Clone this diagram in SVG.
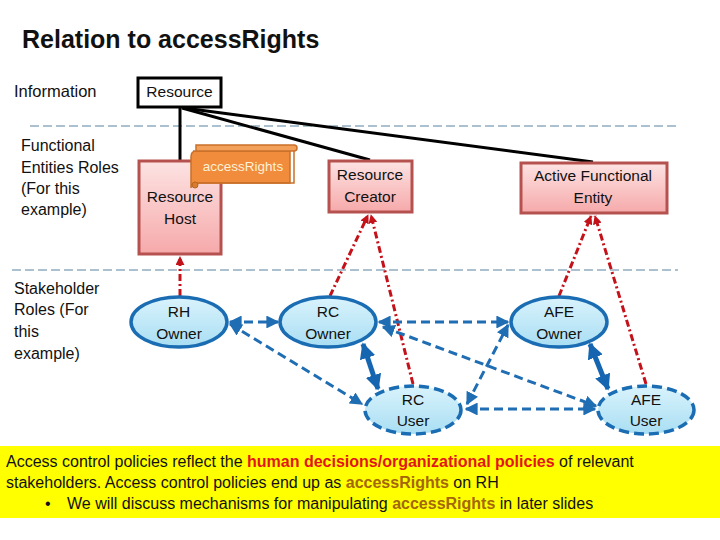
<svg xmlns="http://www.w3.org/2000/svg" width="720" height="540" viewBox="0 0 720 540">
<style>
text{font-family:"Liberation Sans",Arial,sans-serif;fill:#111}
.lbl{font-size:16px}
.node{font-size:15.5px;text-anchor:middle}
.fe{stroke:#b5524f;stroke-width:3;fill:url(#pink)}
.sh{stroke:#1b6db3;stroke-width:3.5;fill:url(#cyan)}
.shd{stroke:#1b6db3;stroke-width:3.5;fill:url(#cyan);stroke-dasharray:10,5}
.sep{stroke:#5b84a0;stroke-width:1.2;stroke-dasharray:9,4;fill:none}
.blk{stroke:#000;stroke-width:3;fill:none}
.red{stroke:#c4121a;stroke-width:3;stroke-dasharray:7,3,2,3;fill:none;marker-end:url(#ra)}
.bd{stroke:#1f6db3;stroke-width:3;stroke-dasharray:9,5;fill:none;marker-start:url(#ba);marker-end:url(#ba)}
.bt{stroke:#1565b0;stroke-width:5;fill:none;marker-start:url(#bta);marker-end:url(#bta)}
.band{font-size:16px}
.hr{fill:#e3141c;font-weight:bold}
.ar{fill:#a3660a;font-weight:bold}
</style>
<defs>
<linearGradient id="pink" x1="0" y1="0" x2="0" y2="1">
<stop offset="0" stop-color="#fde3e3"/><stop offset="1" stop-color="#f6a9aa"/>
</linearGradient>
<linearGradient id="cyan" x1="0" y1="0" x2="0" y2="1">
<stop offset="0" stop-color="#d9f3fc"/><stop offset="1" stop-color="#a9def3"/>
</linearGradient>
<marker id="ba" viewBox="0 0 10 10" refX="9" refY="5" markerWidth="4.3" markerHeight="4.3" orient="auto-start-reverse">
<path d="M0,0 L10,5 L0,10 z" fill="#1f6db3"/>
</marker>
<marker id="bta" viewBox="0 0 10 10" refX="9" refY="5" markerWidth="3.2" markerHeight="3.2" orient="auto-start-reverse">
<path d="M0,0 L10,5 L0,10 z" fill="#1565b0"/>
</marker>
<marker id="ra" viewBox="0 0 10 10" refX="9" refY="5" markerWidth="3" markerHeight="3" orient="auto">
<path d="M0,0 L10,5 L0,10 z" fill="#c4121a"/>
</marker>
</defs>
<rect width="720" height="540" fill="#fff"/>
<text x="22" y="48" style="font-size:25px;font-weight:bold">Relation to accessRights</text>
<g id="row-labels">
<text class="lbl" x="14" y="97" style="font-size:16.5px">Information</text>
<text class="lbl" x="21" y="151">Functional</text>
<text class="lbl" x="21" y="173">Entities Roles</text>
<text class="lbl" x="21" y="194">(For this</text>
<text class="lbl" x="21" y="215">example)</text>
<text class="lbl" x="14" y="294">Stakeholder</text>
<text class="lbl" x="14" y="315">Roles (For</text>
<text class="lbl" x="14" y="337">this</text>
<text class="lbl" x="14" y="359">example)</text>
</g>
<g id="separators">
<line class="sep" x1="30" y1="126" x2="678" y2="126"/>
<line class="sep" x1="12" y1="270" x2="678" y2="270"/>
</g>
<g id="connectors">
<line class="blk" x1="180" y1="107" x2="180" y2="160"/>
<line class="blk" x1="182" y1="108" x2="370" y2="160"/>
<line class="blk" x1="184" y1="108" x2="593" y2="162"/>
<line class="red" x1="180" y1="296" x2="180" y2="257"/>
<line class="red" x1="330" y1="296" x2="368" y2="215"/>
<line class="red" x1="413" y1="384" x2="371" y2="215"/>
<line class="red" x1="559" y1="296" x2="591" y2="216"/>
<line class="red" x1="646" y1="384" x2="595" y2="216"/>
<line class="bd" x1="230" y1="322" x2="278" y2="322"/>
<line class="bd" x1="230" y1="324" x2="362" y2="404"/>
<line class="bd" x1="379" y1="322" x2="508" y2="322"/>
<line class="bd" x1="383" y1="327" x2="596" y2="406"/>
<line class="bd" x1="466" y1="409" x2="595" y2="409"/>
<line class="bd" x1="467" y1="404" x2="508" y2="325"/>
<line class="bt" x1="363" y1="344" x2="378" y2="389"/>
<line class="bt" x1="590" y1="344" x2="608" y2="389"/>
</g>
<g id="resource">
<rect x="138" y="78" width="83" height="29" fill="#fff" stroke="#000" stroke-width="3"/>
<text class="node" x="179.5" y="97">Resource</text>
</g>
<g id="resource-host">
<rect class="fe" x="139" y="161" width="82" height="93"/>
<text class="node" x="180" y="202">Resource</text>
<text class="node" x="180" y="224">Host</text>
</g>
<g id="access-rights">
<path d="M193,151 L290,151 L290,183 L197,183 Q191,183 191,188 L191,157 Q191,151 196,151 Z" fill="#f08c3c" stroke="#c9702a" stroke-width="1.5"/>
<path d="M196,145 L294,145 Q297,145 297,148 Q297,151 294,151 L196,151 Z" fill="#f3a15a" stroke="#c9702a" stroke-width="1.5"/>
<path d="M294,151 L294,183 L197,183" fill="none" stroke="#c9702a" stroke-width="1.5"/>
<circle cx="195" cy="185" r="3" fill="#d97a2e" stroke="#b8651f" stroke-width="1"/>
<text x="243" y="171" style="font-size:13.5px;text-anchor:middle;fill:#fdf1d6">accessRights</text>
</g>
<g id="resource-creator">
<rect class="fe" x="329" y="161" width="83" height="51"/>
<text class="node" x="370" y="180">Resource</text>
<text class="node" x="370" y="202">Creator</text>
</g>
<g id="active-functional-entity">
<rect class="fe" x="521" y="163" width="146" height="50"/>
<text class="node" x="593" y="181">Active Functional</text>
<text class="node" x="593" y="203">Entity</text>
</g>
<g id="rh-owner">
<ellipse class="sh" cx="179" cy="322" rx="48" ry="25"/>
<text class="node" x="179" y="317">RH</text>
<text class="node" x="179" y="339">Owner</text>
</g>
<g id="rc-owner">
<ellipse class="sh" cx="328" cy="322" rx="48" ry="25"/>
<text class="node" x="328" y="317">RC</text>
<text class="node" x="328" y="339">Owner</text>
</g>
<g id="afe-owner">
<ellipse class="sh" cx="559" cy="322" rx="48" ry="25"/>
<text class="node" x="559" y="317">AFE</text>
<text class="node" x="559" y="339">Owner</text>
</g>
<g id="rc-user">
<ellipse class="shd" cx="413" cy="410" rx="48" ry="24"/>
<text class="node" x="413" y="405">RC</text>
<text class="node" x="413" y="426">User</text>
</g>
<g id="afe-user">
<ellipse class="shd" cx="646" cy="410" rx="48" ry="24"/>
<text class="node" x="646" y="405">AFE</text>
<text class="node" x="646" y="426">User</text>
</g>
<g id="note">
<rect x="0" y="446" width="720" height="72" fill="#ffff00"/>
<text class="band" x="6" y="467">Access control policies reflect the <tspan class="hr">human decisions/organizational policies</tspan> of relevant</text>
<text class="band" x="6" y="488">stakeholders.  Access control policies end up as <tspan class="ar">accessRights</tspan> on RH</text>
<text class="band" x="45" y="509">•</text>
<text class="band" x="67" y="509">We will discuss mechanisms for manipulating <tspan class="ar">accessRights</tspan> in later slides</text>
</g>
</svg>
